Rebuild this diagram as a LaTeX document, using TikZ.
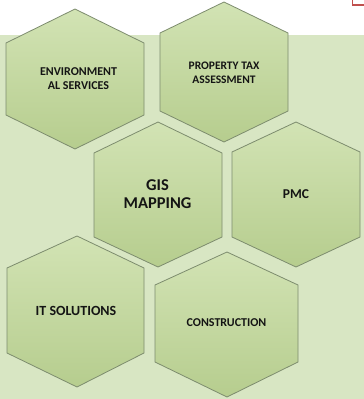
\documentclass[tikz,border=0pt]{standalone}
\usepackage{fontspec}
\setmainfont{Carlito}
\definecolor{bggreen}{HTML}{D8E6C3}
\definecolor{hexline}{HTML}{7D8C6E}
\definecolor{hextop}{HTML}{D2E3B4}
\definecolor{hexbot}{HTML}{B6CD8E}
\definecolor{redline}{HTML}{C0504D}
\definecolor{txt}{HTML}{141414}
\tikzset{
  hexcell/.style={draw=hexline, line width=0.8pt, top color=hextop, bottom color=hexbot},
  hexlabel/.style={text=txt, font=\bfseries, align=center, inner sep=0pt},
}
% #1 cx, #2 left x, #3 right x, #4 top y, #5 upper corner y, #6 lower corner y, #7 bottom y
\newcommand{\hexcellpath}[7]{%
  \path[hexcell] (#1,#4) -- (#3,#5) -- (#3,#6) -- (#1,#7) -- (#2,#6) -- (#2,#5) -- cycle;}
\begin{document}
\begin{tikzpicture}[x=1pt,y=-1pt]
\useasboundingbox (0,0) rectangle (364,399);
\fill[white] (0,0) rectangle (364,399);
\fill[bggreen] (0,35) rectangle (364,399);
\draw[redline, line width=1.5pt] (352.5,0) -- (352.5,5) -- (364,5);
\hexcellpath{75}{6}{144}{9}{43}{115}{149}
\hexcellpath{224}{160}{288}{2}{33}{111}{142}
\hexcellpath{158}{94}{222}{122}{153}{237}{267}
\hexcellpath{296}{232}{360}{122}{152}{237}{267}
\hexcellpath{77}{7}{144}{236}{268}{353}{387}
\hexcellpath{227}{155}{298}{252}{285}{362}{397}
\node[hexlabel, font=\bfseries\fontsize{12}{14}\selectfont] (env) at (78.5,79) {ENVIRONMENT\\AL SERVICES};
\node[hexlabel, font=\bfseries\fontsize{11.5}{13.5}\selectfont] (tax) at (224,73) {PROPERTY TAX\\ASSESSMENT};
\node[hexlabel, font=\bfseries\fontsize{16.5}{18}\selectfont] (gis) at (157.5,194) {GIS\\MAPPING};
\node[hexlabel, font=\bfseries\fontsize{13.5}{16}\selectfont] (pmc) at (296,194) {PMC};
\node[hexlabel, font=\bfseries\fontsize{14}{16}\selectfont] (it) at (76,311) {IT SOLUTIONS};
\node[hexlabel, font=\bfseries\fontsize{12}{14}\selectfont] (con) at (226.5,323) {CONSTRUCTION};
\end{tikzpicture}
\end{document}
